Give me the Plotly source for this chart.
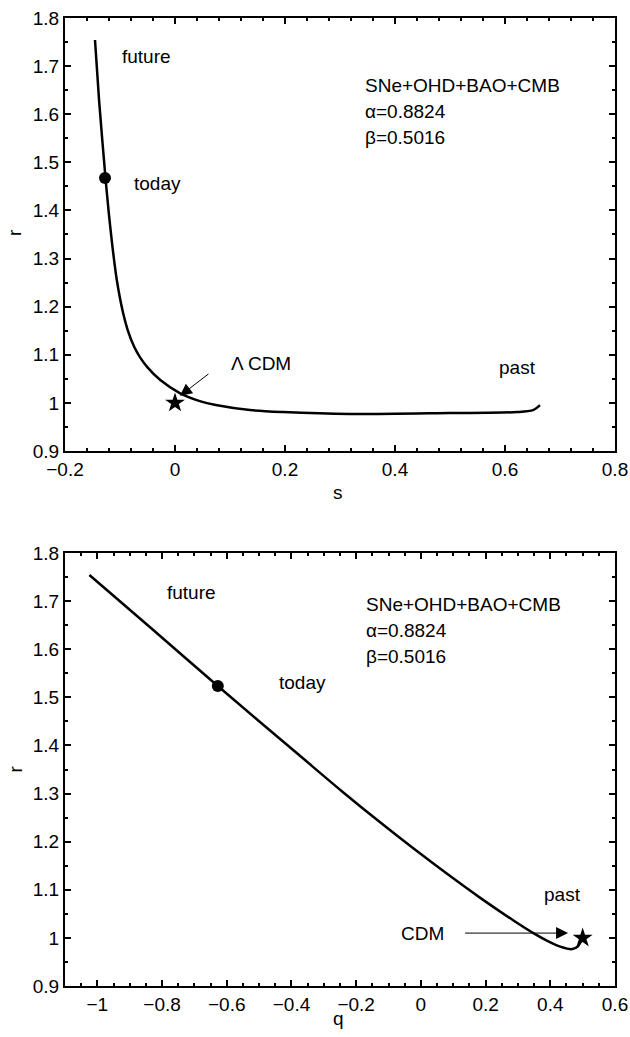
import plotly.graph_objects as go
from plotly.subplots import make_subplots

# ---- top panel: r(s) trajectory ----
s_vals = [-0.14545, -0.13809, -0.12636, -0.12036, -0.11364, -0.10582, -0.09436, -0.0860,
          -0.0740, -0.06382, -0.05036, -0.02673, 0.00873, 0.04509, 0.07418, 0.13636,
          0.19636, 0.31818, 0.5, 0.62182, 0.65091, 0.66364]
r_s_vals = [1.7543, 1.6295, 1.4674, 1.3946, 1.3239, 1.2553, 1.1867, 1.1514,
            1.1160, 1.0952, 1.0744, 1.0474, 1.0204, 1.0037, 0.9954, 0.9850,
            0.9809, 0.9767, 0.9788, 0.9809, 0.9850, 0.9954]
s_today, r_today_s = -0.12727, 1.4674

# ---- bottom panel: r(q) trajectory ----
q_vals = [-1.0246, -0.8308, -0.6277, -0.3692, -0.2462, -0.1231, -0.0215, 0.0831,
          0.1846, 0.2862, 0.3477, 0.3908, 0.4308, 0.4677, 0.4862, 0.4954, 0.4985]
r_q_vals = [1.7543, 1.6420, 1.5235, 1.3759, 1.3060, 1.2387, 1.1852, 1.1322,
            1.0827, 1.0362, 1.0100, 0.9940, 0.9819, 0.9767, 0.9830, 0.9954, 1.0017]
q_today, r_today_q = -0.6277, 1.5235

lcdm_s, lcdm_r = 0.0, 1.0
cdm_q, cdm_r = 0.5, 1.0

FONT = "Liberation Sans, Arial, Helvetica, sans-serif"
FS = 19

fig = make_subplots(rows=2, cols=1, vertical_spacing=0.105)

fig.add_trace(go.Scatter(x=s_vals, y=r_s_vals, mode="lines",
                         line=dict(color="black", width=2.5, shape="spline", smoothing=0.8)),
              row=1, col=1)
fig.add_trace(go.Scatter(x=[s_today], y=[r_today_s], mode="markers",
                         marker=dict(color="black", size=12, symbol="circle")), row=1, col=1)
fig.add_trace(go.Scatter(x=[lcdm_s], y=[lcdm_r], mode="markers",
                         marker=dict(color="black", size=15, symbol="star")), row=1, col=1)

fig.add_trace(go.Scatter(x=q_vals, y=r_q_vals, mode="lines",
                         line=dict(color="black", width=2.5, shape="spline", smoothing=0.8)),
              row=2, col=1)
fig.add_trace(go.Scatter(x=[q_today], y=[r_today_q], mode="markers",
                         marker=dict(color="black", size=12, symbol="circle")), row=2, col=1)
fig.add_trace(go.Scatter(x=[cdm_q], y=[cdm_r], mode="markers",
                         marker=dict(color="black", size=15, symbol="star")), row=2, col=1)

axis_common = dict(showline=True, linecolor="black", linewidth=2, mirror="allticks",
                   ticks="inside", ticklen=6, tickwidth=1.5, tickcolor="black",
                   showgrid=False, zeroline=False, automargin=False,
                   tickfont=dict(family=FONT, size=FS, color="black"))


def labels(vals):
    out = []
    for v in vals:
        t = f"{v:.1f}"
        if t.endswith(".0"):
            t = t[:-2]
        t = t.replace("-", "\u2212")
        if t == "\u22120":
            t = "0"
        out.append(t)
    return out


top_x = [-0.2, 0.0, 0.2, 0.4, 0.6, 0.8]
bot_x = [-1.0, -0.8, -0.6, -0.4, -0.2, 0.0, 0.2, 0.4, 0.6]
y_ticks = [0.9, 1.0, 1.1, 1.2, 1.3, 1.4, 1.5, 1.6, 1.7, 1.8]

fig.update_xaxes(range=[-0.2, 0.8], tickmode="array", tickvals=top_x, ticktext=labels(top_x),
                 minor=dict(dtick=0.04, tick0=0, ticks="inside", ticklen=3, tickcolor="black"),
                 row=1, col=1, **axis_common)
fig.update_yaxes(range=[0.9, 1.8], tickmode="array", tickvals=y_ticks, ticktext=labels(y_ticks),
                 minor=dict(dtick=0.05, tick0=0, ticks="inside", ticklen=3, tickcolor="black"),
                 row=1, col=1, **axis_common)
fig.update_xaxes(range=[-1.1, 0.6], tickmode="array", tickvals=bot_x, ticktext=labels(bot_x),
                 minor=dict(dtick=0.05, tick0=0, ticks="inside", ticklen=3, tickcolor="black"),
                 row=2, col=1, **axis_common)
fig.update_yaxes(range=[0.9, 1.8], tickmode="array", tickvals=y_ticks, ticktext=labels(y_ticks),
                 minor=dict(dtick=0.05, tick0=0, ticks="inside", ticklen=3, tickcolor="black"),
                 row=2, col=1, **axis_common)

tf = dict(family=FONT, size=FS, color="black")


def txt(x, y, text, xref, yref):
    return dict(x=x, y=y, xref=xref, yref=yref, text=text, showarrow=False,
                xanchor="left", yanchor="middle", font=tf)


def title(x, y, text, angle=0):
    return dict(x=x, y=y, xref="paper", yref="paper", text=text, showarrow=False,
                xanchor="center", yanchor="middle", textangle=angle, font=tf)


annots = [
    txt(-0.1, 1.721, "future", "x", "y"),
    txt(-0.078, 1.456, "today", "x", "y"),
    txt(0.585, 1.073, "past", "x", "y"),
    txt(0.342, 1.660, "SNe+OHD+BAO+CMB", "x", "y"),
    txt(0.342, 1.606, "\u03b1=0.8824", "x", "y"),
    txt(0.342, 1.552, "\u03b2=0.5016", "x", "y"),
    txt(0.098, 1.081, "\u039b CDM", "x", "y"),
    txt(-0.79, 1.717, "future", "x2", "y2"),
    txt(-0.446, 1.530, "today", "x2", "y2"),
    txt(0.375, 1.091, "past", "x2", "y2"),
    txt(-0.175, 1.692, "SNe+OHD+BAO+CMB", "x2", "y2"),
    txt(-0.175, 1.638, "\u03b1=0.8824", "x2", "y2"),
    txt(-0.175, 1.584, "\u03b2=0.5016", "x2", "y2"),
    txt(-0.068, 1.010, "CDM", "x2", "y2"),
    title(0.4964, 0.5093, "s"),
    title(0.4964, -0.034, "q"),
    title(-0.0909, 0.7780, "r", -90),
    title(-0.0909, 0.2237, "r", -90),
    dict(x=0.009, y=1.0146, xref="x", yref="y", ax=0.0636, ay=1.0625, axref="x", ayref="y",
         showarrow=True, arrowhead=2, arrowsize=2.4, arrowwidth=1, arrowcolor="black", text=""),
    dict(x=0.455, y=1.010, xref="x2", yref="y2", ax=0.132, ay=1.010, axref="x2", ayref="y2",
         showarrow=True, arrowhead=2, arrowsize=2.4, arrowwidth=1, arrowcolor="black", text=""),
]

fig.update_layout(width=630, height=1037, showlegend=False,
                  paper_bgcolor="white", plot_bgcolor="white",
                  margin=dict(l=65, r=15, t=18, b=51, autoexpand=False),
                  font=dict(family=FONT, size=FS, color="black"),
                  annotations=annots)
fig.update_layout(yaxis=dict(domain=[0.5527, 1.0]), yaxis2=dict(domain=[0.0, 0.4473]))

fig.write_html("out.html", config={"displayModeBar": False},
               post_script="document.body.style.margin='0';document.body.style.padding='0';"
                           "document.body.style.overflow='hidden';")
